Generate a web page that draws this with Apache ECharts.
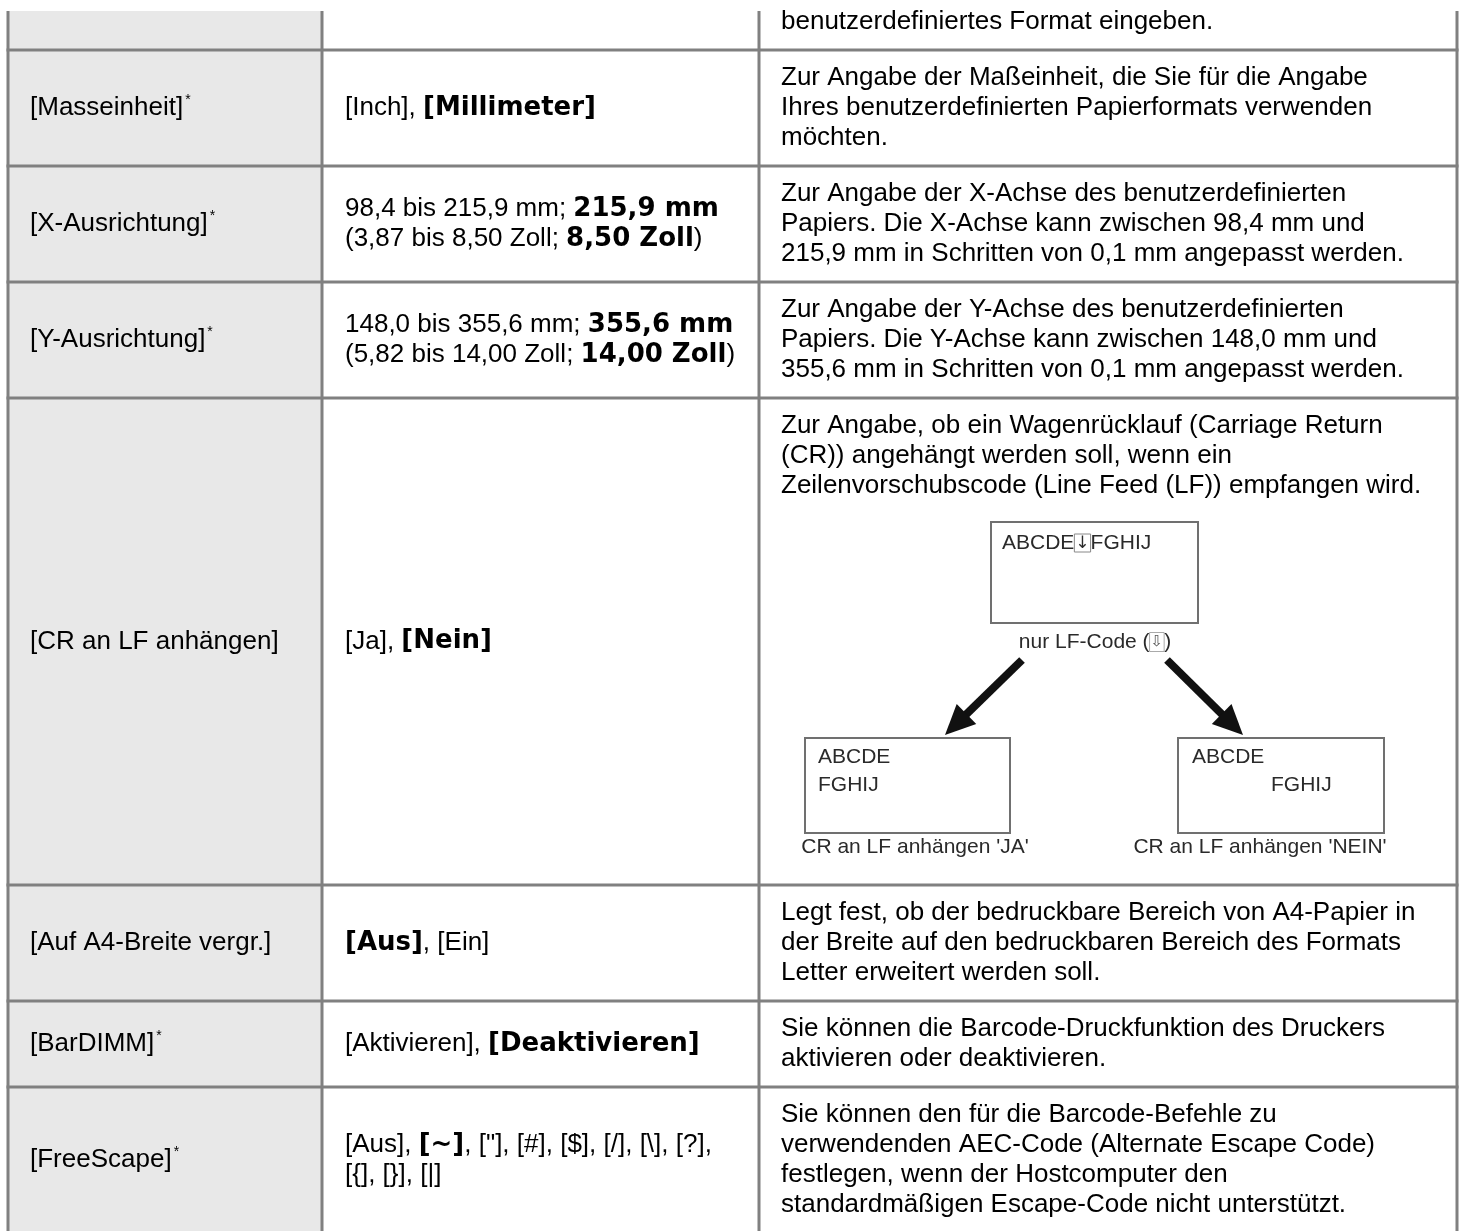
<!DOCTYPE html>
<html><head><meta charset="utf-8">
<script src="https://cdn.jsdelivr.net/npm/echarts/dist/echarts.min.js"></script>
<style>html,body{margin:0;padding:0;background:#fff}#c{width:1462px;height:1231px}</style>
</head><body><div id="c"></div>
<script>
// ---- table content ----
const labels = ['', '[Masseinheit]', '[X-Ausrichtung]', '[Y-Ausrichtung]', '[CR an LF anhängen]', '[Auf A4-Breite vergr.]', '[BarDIMM]', '[FreeScape]'];
const starred = [false, true, true, true, false, false, true, true];
const values = [
  '',
  '[Inch], **[Millimeter]**',
  '98,4 bis 215,9 mm; **215,9 mm**\n(3,87 bis 8,50 Zoll; **8,50 Zoll**)',
  '148,0 bis 355,6 mm; **355,6 mm**\n(5,82 bis 14,00 Zoll; **14,00 Zoll**)',
  '[Ja], **[Nein]**',
  '**[Aus]**, [Ein]',
  '[Aktivieren], **[Deaktivieren]**',
  '[Aus], **[~]**, ["], [#], [$], [/], [\\], [?],\n[{], [}], [|]'
];
const descriptions = [
  'benutzerdefiniertes Format eingeben.',
  'Zur Angabe der Maßeinheit, die Sie für die Angabe\nIhres benutzerdefinierten Papierformats verwenden\nmöchten.',
  'Zur Angabe der X-Achse des benutzerdefinierten\nPapiers. Die X-Achse kann zwischen 98,4 mm und\n215,9 mm in Schritten von 0,1 mm angepasst werden.',
  'Zur Angabe der Y-Achse des benutzerdefinierten\nPapiers. Die Y-Achse kann zwischen 148,0 mm und\n355,6 mm in Schritten von 0,1 mm angepasst werden.',
  'Zur Angabe, ob ein Wagenrücklauf (Carriage Return\n(CR)) angehängt werden soll, wenn ein\nZeilenvorschubscode (Line Feed (LF)) empfangen wird.',
  'Legt fest, ob der bedruckbare Bereich von A4-Papier in\nder Breite auf den bedruckbaren Bereich des Formats\nLetter erweitert werden soll.',
  'Sie können die Barcode-Druckfunktion des Druckers\naktivieren oder deaktivieren.',
  'Sie können den für die Barcode-Befehle zu\nverwendenden AEC-Code (Alternate Escape Code)\nfestlegen, wenn der Hostcomputer den\nstandardmäßigen Escape-Code nicht unterstützt.'
];
const diagramRow = 4;
const diagramSource = 'ABCDE';
const diagramTarget = 'FGHIJ';
const diagramMid = 'nur LF-Code (';
const diagramCaptions = ["CR an LF anhängen 'JA'", "CR an LF anhängen 'NEIN'"];

// ---- layout & style ----
const FONT = '"Liberation Sans", Arial, Helvetica, sans-serif';
const BOLD = '"DejaVu Sans", "Liberation Sans", sans-serif';
const FS = 26, LH = 30, PAD = 26;
const X = [8, 322, 759, 1457];
const TOP = 11, FIRST_BOTTOM = 50, DIAGRAM_H = 371;
const GRID = '#808080', GREY = '#e8e8e8';

function lines(s) { return s ? s.split('\n').length : 0; }
function rich(s) { return s.replace(/\*\*(.+?)\*\*/g, '{b|$1}'); }

const bounds = [[TOP, FIRST_BOTTOM]];
let y = FIRST_BOTTOM;
for (let i = 1; i < labels.length; i++) {
  const n = Math.max(lines(values[i]), lines(descriptions[i]), 1);
  let h = n * LH + PAD;
  if (i === diagramRow) h += DIAGRAM_H;
  bounds.push([y, y + h]);
  y += h;
}

const richStyles = {
  b: { fontFamily: BOLD, fontWeight: 'bold', fontSize: FS, lineHeight: LH, fill: '#000' },
  sup: { fontFamily: FONT, fontSize: 14, lineHeight: 14, verticalAlign: 'top', padding: [0, 0, 0, 2], fill: '#000' }
};
const baseText = { fontFamily: FONT, fontSize: FS, lineHeight: LH, fill: '#000', rich: richStyles };

const els = [];
const bottom = 1240;
els.push({ type: 'rect', shape: { x: X[0], y: TOP, width: X[1] - X[0], height: bottom - TOP }, style: { fill: GREY } });
els.push({ type: 'rect', shape: { x: X[1], y: TOP, width: X[3] - X[1], height: bottom - TOP }, style: { fill: '#fff' } });
X.forEach(x => els.push({ type: 'line', shape: { x1: x, y1: TOP, x2: x, y2: bottom }, style: { stroke: GRID, lineWidth: 3 } }));
bounds.forEach(b => { if (b[1] < bottom) els.push({ type: 'line', shape: { x1: X[0] - 1.5, y1: b[1], x2: X[3] + 1.5, y2: b[1] }, style: { stroke: GRID, lineWidth: 3 } }); });

bounds.forEach((b, i) => {
  let cy = (b[0] + b[1]) / 2;
  if (i === 0) cy = b[1] - PAD / 2 - LH / 2;
  if (labels[i]) els.push({ type: 'text', x: X[0] + 22, y: cy, style: Object.assign({}, baseText, { text: labels[i] + (starred[i] ? '{sup|*}' : ''), align: 'left', verticalAlign: 'middle' }) });
  if (values[i]) els.push({ type: 'text', x: X[1] + 23, y: cy, style: Object.assign({}, baseText, { text: rich(values[i]), align: 'left', verticalAlign: 'middle' }) });
  if (i === diagramRow) {
    els.push({ type: 'text', x: X[2] + 22, y: b[0] + PAD / 2, style: Object.assign({}, baseText, { text: descriptions[i], align: 'left', verticalAlign: 'top' }) });
  } else {
    els.push({ type: 'text', x: X[2] + 22, y: cy, style: Object.assign({}, baseText, { text: descriptions[i], align: 'left', verticalAlign: 'middle' }) });
  }
});

// ---- diagram in the CR row ----
(function () {
  const b = bounds[diagramRow];
  const ox = X[2], oy = b[0] + PAD / 2 + 3 * LH;
  const DF = 21, DC = '#2a2a2a', BOX = '#707070';
  const dText = { fontFamily: FONT, fontSize: DF, fill: DC };
  const box = (x, y, w, h) => els.push({ type: 'rect', shape: { x: ox + x, y: oy + y, width: w, height: h }, style: { fill: '#fff', stroke: BOX, lineWidth: 2 } });
  const txt = (x, y, t, align, extra) => els.push({ type: 'text', x: ox + x, y: oy + y, style: Object.assign({}, dText, { text: t, align: align || 'left', verticalAlign: 'middle' }, extra || {}) });
  box(232, 21, 207, 101);
  txt(243, 42, diagramSource + '{a|↓}' + diagramTarget, 'left', { rich: { a: { fontFamily: '"DejaVu Sans", sans-serif', fontSize: 17, fill: DC, borderColor: '#888', borderWidth: 1, padding: [1, 1, 0, 1] } } });
  txt(336, 141, diagramMid + '{a|⇩}' + ')', 'center', { rich: { a: { fontFamily: '"DejaVu Sans", sans-serif', fontSize: 15, fill: '#555', borderColor: '#aaa', borderWidth: 1, padding: [2, 1, 2, 1] } } });
  const arrow = (x1, y1, x2, y2) => {
    const dx = x2 - x1, dy = y2 - y1, L = Math.hypot(dx, dy), ux = dx / L, uy = dy / L;
    const hl = 30, hw = 14;
    const bx = ox + x2 - ux * hl, by = oy + y2 - uy * hl;
    els.push({ type: 'line', shape: { x1: ox + x1, y1: oy + y1, x2: bx + ux * 4, y2: by + uy * 4 }, style: { stroke: '#111', lineWidth: 8 } });
    els.push({ type: 'polygon', shape: { points: [[ox + x2, oy + y2], [bx - uy * hw, by + ux * hw], [bx + uy * hw, by - ux * hw]] }, style: { fill: '#111' } });
  };
  arrow(263, 159, 186, 234);
  arrow(408, 159, 484, 234);
  box(46, 237, 205, 95);
  box(419, 237, 206, 95);
  txt(59, 256, diagramSource);
  txt(59, 284, diagramTarget);
  txt(433, 256, diagramSource);
  txt(512, 284, diagramTarget);
  txt(156, 346, diagramCaptions[0], 'center');
  txt(501, 346, diagramCaptions[1], 'center');
})();

const chart = echarts.init(document.getElementById('c'), null, { renderer: 'canvas' });
chart.setOption({ backgroundColor: '#fff', animation: false, graphic: { elements: els } });
</script></body></html>
